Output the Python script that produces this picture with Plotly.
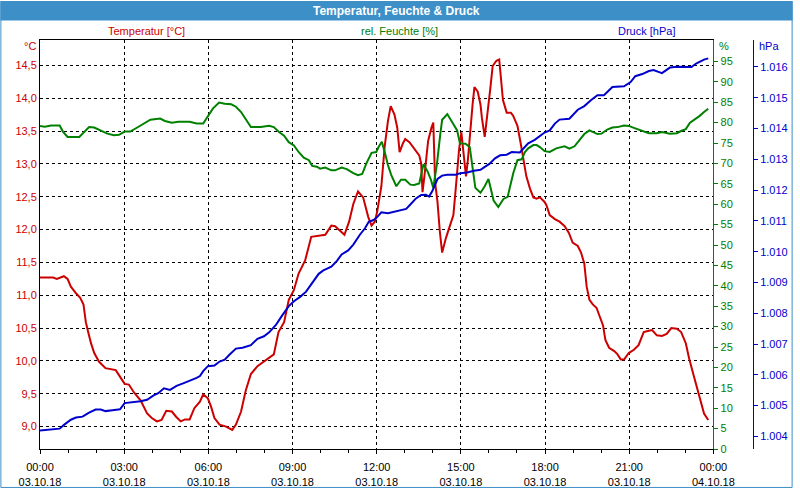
import plotly.graph_objects as go

DAY = "2018-10-03 "

temp_time = ["00:00","00:28","00:36","00:51","00:59","01:06","01:17","01:26","01:33","01:38",
             "01:43","01:49","01:56","02:06","02:20","02:42","02:52","03:01","03:10","03:21",
             "03:35","03:49","03:59","04:10","04:20","04:30","04:42","04:51","05:01","05:10",
             "05:20","05:30","05:42","05:49","05:59","06:06","06:13","06:24","06:38","06:51",
             "06:59","07:10","07:20","07:31","07:45","08:03","08:20","08:30","08:42","08:52",
             "09:03","09:13","09:27","09:40","09:56","10:10","10:23","10:31","10:51","11:01",
             "11:10","11:20","11:31","11:42","11:49","11:56","12:01","12:10","12:17","12:24",
             "12:30","12:38","12:44","12:49","12:56","13:01","13:10","13:20","13:31","13:35",
             "13:38","13:42","13:45","13:50","13:57","14:01","14:05","14:10","14:15","14:20",
             "14:28","14:35","14:44","14:49","14:56","15:01","15:06","15:11","15:15","15:20",
             "15:25","15:29","15:36","15:42","15:45","15:51","15:56","16:03","16:08","16:16",
             "16:22","16:25","16:30","16:38","16:47","16:52","17:01","17:08","17:13","17:20",
             "17:28","17:35","17:42","17:49","17:59","18:03","18:10","18:21","18:31","18:42",
             "18:51","18:59","19:10","19:17","19:24","19:29","19:35","19:42","19:50","19:57",
             "20:04","20:09","20:17","20:28","20:35","20:42","20:49","20:59","21:10","21:20",
             "21:31","21:42","21:49","21:59","22:10","22:20","22:30","22:42","22:51","23:01",
             "23:08","23:17","23:26","23:33","23:40","23:49"]
temp_vals = [11.27,11.27,11.25,11.29,11.25,11.13,11.03,10.96,10.86,10.59,
             10.44,10.27,10.12,9.99,9.89,9.86,9.75,9.65,9.64,9.52,
             9.40,9.20,9.13,9.08,9.10,9.24,9.23,9.15,9.08,9.11,
             9.11,9.28,9.38,9.49,9.43,9.30,9.13,9.03,9.00,8.95,
             9.03,9.23,9.55,9.80,9.92,10.02,10.10,10.44,10.59,10.93,
             11.08,11.33,11.53,11.89,11.90,11.92,12.06,12.05,11.92,12.12,
             12.39,12.58,12.49,12.19,12.06,12.12,12.27,12.66,13.26,13.65,
             13.88,13.75,13.55,13.18,13.31,13.38,13.33,13.23,13.13,13.01,
             12.57,12.81,13.01,13.35,13.55,13.63,12.71,12.42,11.97,11.65,
             11.87,12.02,12.22,12.62,13.21,13.48,13.16,12.81,13.06,13.51,
             13.90,14.17,14.10,13.90,13.70,13.41,13.70,14.15,14.49,14.57,
             14.59,14.35,13.97,13.78,13.78,13.73,13.58,13.31,13.11,12.81,
             12.62,12.49,12.47,12.49,12.42,12.37,12.22,12.16,12.12,12.05,
             11.95,11.80,11.75,11.65,11.48,11.13,10.93,10.86,10.81,10.66,
             10.54,10.32,10.20,10.15,10.10,10.02,10.02,10.12,10.17,10.24,
             10.44,10.46,10.47,10.39,10.38,10.41,10.50,10.49,10.44,10.27,
             10.04,9.80,9.55,9.40,9.20,9.10]

hum_time = ["00:00","00:10","00:24","00:42","00:49","00:59","01:24","01:35","01:45","01:56",
            "02:10","02:24","02:38","02:49","03:01","03:13","03:28","03:42","03:56","04:17",
            "04:27","04:42","04:56","05:20","05:35","05:49","05:57","06:04","06:10","06:23",
            "06:35","06:49","06:59","07:10","07:20","07:31","07:52","08:10","08:20","08:31",
            "08:42","08:52","09:03","09:13","09:24","09:35","09:42","09:52","09:59","10:10",
            "10:23","10:31","10:45","10:56","11:10","11:20","11:29","11:38","11:49","11:59",
            "12:04","12:11","12:18","12:24","12:31","12:42","12:52","13:01","13:12","13:20",
            "13:31","13:40","13:49","13:56","14:01","14:09","14:16","14:20","14:31","14:38",
            "14:45","14:52","14:58","15:10","15:19","15:22","15:26","15:31","15:42","15:51",
            "15:59","16:04","16:10","16:20","16:31","16:40","16:45","16:52","17:01","17:10",
            "17:17","17:24","17:35","17:42","17:49","17:59","18:10","18:24","18:42","18:52",
            "19:03","19:13","19:24","19:35","19:42","19:52","20:01","20:13","20:24","20:35",
            "20:49","20:59","21:13","21:28","21:42","21:59","22:10","22:27","22:42","22:52",
            "23:01","23:10","23:20","23:30","23:40","23:49"]
hum_vals = [79.2,79.0,79.3,79.3,77.8,76.5,76.5,77.8,78.9,78.8,
            78.0,77.3,76.9,77.0,77.8,77.8,78.8,79.7,80.7,81.0,
            80.4,80.0,80.2,80.2,79.8,79.8,81.3,82.7,83.5,84.9,
            84.6,84.5,83.9,82.6,80.7,78.9,78.9,79.2,78.9,77.7,
            76.8,75.2,74.4,72.8,71.4,70.8,69.4,69.2,68.7,69.0,
            68.3,68.3,69.0,68.6,67.6,67.1,67.4,70.0,72.6,72.8,
            74.0,75.3,72.4,69.6,67.2,64.4,66.0,66.0,64.8,64.7,
            65.1,69.8,68.0,66.0,64.0,70.0,77.2,80.7,82.1,80.7,
            79.4,78.1,74.9,74.8,74.0,71.6,67.6,64.0,62.8,64.4,
            66.2,63.7,60.9,59.3,61.3,61.8,64.4,67.6,70.8,71.0,
            72.8,73.7,74.5,74.5,74.0,73.0,72.8,73.7,74.2,73.6,
            74.2,75.6,77.2,78.1,77.7,77.2,77.3,78.3,78.8,78.9,
            79.3,79.2,78.6,78.0,77.4,77.4,77.7,77.3,77.4,78.0,
            78.4,80.0,80.7,81.6,82.6,83.4]

pres_time = ["00:00","00:17","00:42","00:52","01:06","01:17","01:31","01:45","01:59","02:10",
             "02:20","02:35","02:51","03:01","03:21","03:35","03:49","04:03","04:13","04:25",
             "04:38","04:52","05:06","05:20","05:35","05:42","05:49","05:59","06:13","06:24",
             "06:35","06:45","06:59","07:13","07:31","07:45","07:59","08:10","08:24","08:38",
             "08:52","09:03","09:17","09:29","09:42","09:56","10:06","10:23","10:35","10:45",
             "10:59","11:10","11:24","11:35","11:43","11:52","11:59","12:10","12:24","12:42",
             "12:52","13:03","13:13","13:24","13:35","13:45","13:52","13:59","14:10","14:20",
             "14:31","14:49","14:59","15:13","15:28","15:42","15:52","16:01","16:13","16:24",
             "16:38","16:49","17:06","17:13","17:24","17:38","17:49","17:59","18:10","18:21",
             "18:31","18:52","19:10","19:24","19:38","19:52","20:06","20:24","20:49","21:03",
             "21:13","21:28","21:42","21:52","22:10","22:27","22:42","22:59","23:13","23:24",
             "23:40","23:49"]
pres_vals = [1004.19,1004.22,1004.25,1004.38,1004.54,1004.61,1004.64,1004.77,1004.87,1004.87,
             1004.82,1004.85,1004.88,1005.08,1005.11,1005.14,1005.19,1005.33,1005.40,1005.56,
             1005.51,1005.64,1005.72,1005.80,1005.90,1005.96,1006.12,1006.28,1006.30,1006.43,
             1006.49,1006.65,1006.85,1006.88,1006.96,1007.17,1007.25,1007.38,1007.61,1007.93,
             1008.23,1008.39,1008.54,1008.70,1008.99,1009.28,1009.39,1009.51,1009.70,1009.91,
             1010.04,1010.23,1010.55,1010.76,1010.97,1011.02,1011.09,1011.28,1011.25,1011.32,
             1011.37,1011.39,1011.55,1011.73,1011.84,1011.85,1011.79,1011.97,1012.36,1012.47,
             1012.50,1012.50,1012.55,1012.57,1012.63,1012.66,1012.76,1012.85,1013.03,1013.13,
             1013.15,1013.24,1013.22,1013.34,1013.52,1013.63,1013.77,1013.87,1013.94,1014.16,
             1014.29,1014.32,1014.61,1014.73,1014.92,1015.08,1015.08,1015.35,1015.37,1015.51,
             1015.70,1015.77,1015.87,1015.90,1015.80,1015.98,1016.01,1016.01,1016.00,1016.12,
             1016.24,1016.28]

x_tick_vals = ["2018-10-03 00:00", "2018-10-03 03:00", "2018-10-03 06:00", "2018-10-03 09:00",
               "2018-10-03 12:00", "2018-10-03 15:00", "2018-10-03 18:00", "2018-10-03 21:00",
               "2018-10-04 00:00"]
x_tick_text = ["00:00<br>03.10.18", "03:00<br>03.10.18", "06:00<br>03.10.18", "09:00<br>03.10.18",
               "12:00<br>03.10.18", "15:00<br>03.10.18", "18:00<br>03.10.18", "21:00<br>03.10.18",
               "00:00<br>04.10.18"]
hum_ticks = [0, 5, 10, 15, 20, 25, 30, 35, 40, 45, 50, 55, 60, 65, 70, 75, 80, 85, 90, 95]
pres_ticks = [1004, 1005, 1006, 1007, 1008, 1009, 1010, 1011, 1012, 1013, 1014, 1015, 1016]

RED = "#cc0000"
GREEN = "#008000"
BLUE = "#0000cc"
BAR = "#3d8fc7"
FONT = "Liberation Sans"

# layout geometry (pixels)
L, R, T, B = 40, 40, 40, 40
W, H = 800, 500
PW, PH = W - L - R, H - T - B


def px(x):
    return (x - L) / PW


def py(y):
    return (H - B - y) / PH


fig = go.Figure()
fig.add_trace(go.Scatter(x=[DAY + t for t in temp_time], y=temp_vals, mode="lines",
                         line=dict(color=RED, width=2), yaxis="y", name="Temperatur"))
fig.add_trace(go.Scatter(x=[DAY + t for t in hum_time], y=hum_vals, mode="lines",
                         line=dict(color=GREEN, width=2), yaxis="y2", name="rel. Feuchte"))
fig.add_trace(go.Scatter(x=[DAY + t for t in pres_time], y=pres_vals, mode="lines",
                         line=dict(color=BLUE, width=2), yaxis="y3", name="Druck"))

fig.update_layout(
    width=W, height=H,
    margin=dict(l=L, r=R, t=T, b=B, pad=0),
    paper_bgcolor="white", plot_bgcolor="white",
    separators=",.",
    showlegend=False,
    font=dict(family=FONT, size=11, color="black"),
    xaxis=dict(
        type="date", domain=[0, 680 / 720],
        range=["2018-10-03 00:00", "2018-10-04 00:00"],
        tickmode="array", tickvals=x_tick_vals, ticktext=x_tick_text,
        showgrid=True, gridcolor="black", gridwidth=1, griddash="3px,3px",
        showline=True, linecolor="black", linewidth=1, mirror=True,
        ticks="outside", ticklen=4, tickcolor="black", ticklabelstandoff=4,
        minor=dict(ticks="outside", ticklen=3, tickcolor="black", dtick=3600000, showgrid=False),
        tickfont=dict(color="black", size=11, family=FONT),
        zeroline=False,
    ),
    yaxis=dict(
        range=[8.659, 14.886], tick0=9.0, dtick=0.5, tickformat=".1f",
        showgrid=True, gridcolor="black", gridwidth=1, griddash="3px,3px",
        showline=True, linecolor="black", linewidth=1,
        ticks="", tickfont=dict(color=RED, size=11, family=FONT),
        zeroline=False,
    ),
    yaxis2=dict(
        overlaying="y", side="right", anchor="x",
        range=[0, 100.25], tickmode="array", tickvals=hum_ticks,
        showgrid=False, zeroline=False,
        showline=True, linecolor=GREEN, linewidth=1,
        ticks="outside", ticklen=4, tickcolor=GREEN,
        tickfont=dict(color=GREEN, size=11, family=FONT),
    ),
    yaxis3=dict(
        overlaying="y", side="right", anchor="free", position=1.0,
        range=[1003.589, 1016.876], tickmode="array", tickvals=pres_ticks, tickformat=",d",
        showgrid=False, zeroline=False,
        showline=True, linecolor=BLUE, linewidth=1,
        ticks="outside", ticklen=4, tickcolor=BLUE,
        tickfont=dict(color=BLUE, size=11, family=FONT),
    ),
)

fig.add_shape(type="rect", xref="paper", yref="paper",
              x0=px(0), x1=px(W), y0=py(20), y1=py(0),
              fillcolor=BAR, line=dict(width=0), layer="above")
fig.add_shape(type="rect", xref="paper", yref="paper",
              x0=px(0.5), x1=px(W - 0.5), y0=py(H - 0.5), y1=py(0.5),
              fillcolor="rgba(0,0,0,0)", line=dict(color=BAR, width=1), layer="above")


def note(text, x, y, color, anchor="center", size=11, bold=False):
    fig.add_annotation(text=("<b>%s</b>" % text) if bold else text,
                       x=px(x), y=py(y), xref="paper", yref="paper",
                       xanchor=anchor, yanchor="middle", showarrow=False,
                       font=dict(color=color, size=size, family=FONT))


note("Temperatur, Feuchte &amp; Druck", 400, 10, "white", size=12, bold=True)
note("Temperatur [°C]", 148, 31, RED)
note("rel. Feuchte [%]", 403, 31, GREEN)
note("Druck [hPa]", 652, 31, BLUE)
note("°C", 38, 46, RED, anchor="right")
note("%", 724, 46, GREEN, anchor="left")
note("hPa", 764, 46, BLUE, anchor="left")

fig.write_html("out.html")
